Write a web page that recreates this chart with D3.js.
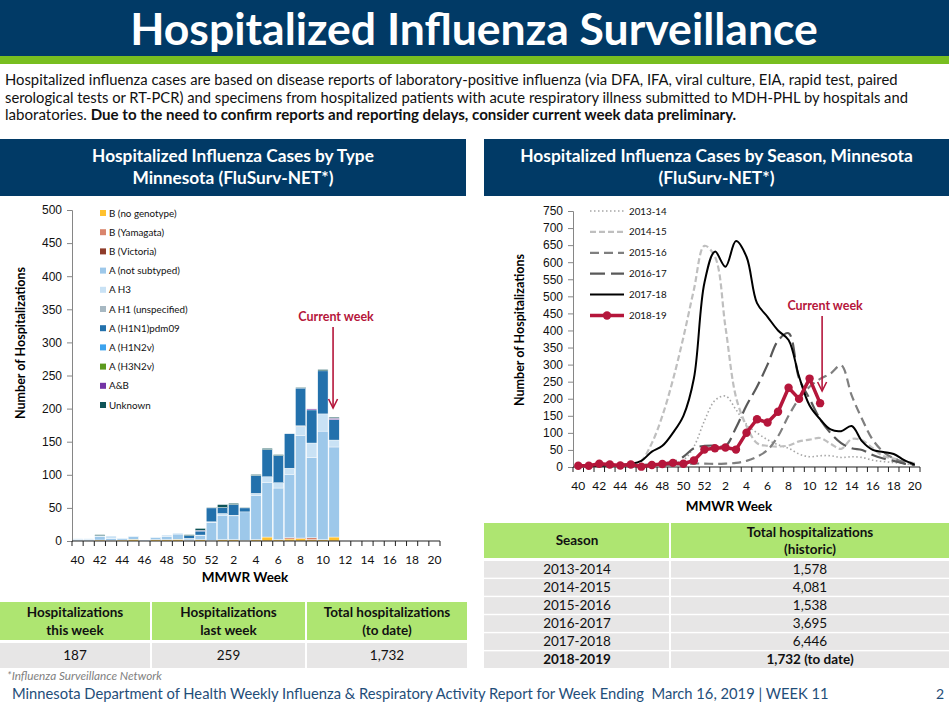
<!DOCTYPE html>
<html>
<head>
<meta charset="utf-8">
<script src="https://cdn.jsdelivr.net/npm/d3@7"></script>
<style>
  body { margin: 0; background: #fff; }
  svg { display: block; font-family: Lato, "Open Sans", sans-serif; }
</style>
</head>
<body>
<script>
// ---- data ----
const weeks = ["40","41","42","43","44","45","46","47","48","49","50","51","52",
  "1","2","3","4","5","6","7","8","9","10","11","12","13","14","15","16","17","18","19","20"];
const tickWeeks = ["40","42","44","46","48","50","52","2","4","6","8","10","12","14","16","18","20"];

// 2018-19 weekly counts by type (weeks 40 .. 11)
const bNoGenotype = [0.5,0.5,1.5,1,1.5,2.5,0,2,2,2.5,1,2,1,2,2,1,2,6,2,3,4,2,2,6];
const bYamagata   = [0,0,0,0,0,0,0,0,0,0,0,0,0,0,0,0,0,0,0,2,0,3,0,0];
const bVictoria   = [0,0,0,0,0,0,0,0,0,0,0,0,0,0,0,0,0,0,0,0,0.5,0,0,0];
const aNotSub     = [2,2,5,3,2,4,1,3,5,8,2,6,27,37,36,43,67,82,78,95,155,121,164,136];
const aH3         = [1,1,1.5,3.5,1,1,0,1,2,1.5,1,1,1,2.5,1,0,3,9,8,10,13.5,22,26,10.5];
const aH1         = [0,0,0,0,0,0,0,0,0,0,0,0,0,0,0,0,0,0,0,0,1,0,0,0];
const aPdm09      = [0,0,0,0,0,0,0,0,0,0,4,6,21,9,16,6,27,41,41,52,57,50,65,31];
const aH1N2v      = [0,0,0,0,0,0,0,0,0,0,0,0,0,0,0,0,0,0,0,0,0,0,0,0];
const aH3N2v      = [0,0,0,0,0,0,0,0,0,0,0,0,0,0,0,0,0,0,0,0,0,0,0,0];
const aAndB       = [0,0,0,0,0,0,0,0,0,0,0,1,0,0,0,0,0,0,0,0,0,1.5,0,2];
const unknown     = [0,0,1.5,0,0,0,0,0,0,0,1.5,3,1,4.5,2,1,1.5,2,1.5,0,1,0,2,1.5];

const typeNames = ["B (no genotype)","B (Yamagata)","B (Victoria)","A (not subtyped)","A H3",
  "A H1 (unspecified)","A (H1N1)pdm09","A (H1N2v)","A (H3N2v)","A&B","Unknown"];
const typeValues = [bNoGenotype,bYamagata,bVictoria,aNotSub,aH3,aH1,aPdm09,aH1N2v,aH3N2v,aAndB,unknown];
const typeColors = ["#FFC12E","#D9856D","#8E3B2A","#9DC8EA","#C9E2F5","#A7B8C2","#2371AC",
  "#3DA3EE","#5C9A1D","#7434A5","#0E5458"];

// hospitalizations by season (weeks 40 .. 20)
const s1314 = [1,1,2,2,2,3,3,4,5,10,20,60,135,195,208,168,125,100,80,65,55,38,30,33,33,28,30,28,20,16,13,10,6];
const s1415 = [2,3,3,4,4,5,18,70,150,255,380,520,648,616,410,205,120,70,62,60,63,75,80,85,68,53,82,78,55,32,25,18,11];
const s1516 = [2,2,3,3,3,4,4,5,5,6,8,10,10,9,10,12,18,30,50,90,150,200,235,258,274,298,210,140,80,45,25,14,6];
const s1617 = [2,3,3,4,5,5,6,8,10,15,30,55,62,63,62,115,180,235,300,370,392,260,200,140,99,70,55,50,35,25,18,10,5];
const s1718 = [2,3,4,5,6,9,18,45,62,100,150,260,540,631,587,662,616,480,440,400,372,265,180,140,110,105,120,75,50,44,38,20,7];
const s1819 = bNoGenotype.map((_, i) => d3.sum(typeValues, s => s[i]));

const seasonNames = ["2013-14","2014-15","2015-16","2016-17","2017-18","2018-19"];

const tableSeasons = ["2013-2014","2014-2015","2015-2016","2016-2017","2017-2018","2018-2019"];
const tableTotals  = ["1,578","4,081","1,538","3,695","6,446","1,732 (to date)"];
const weekHeaders  = [["Hospitalizations","this week"],["Hospitalizations","last week"],["Total hospitalizations","(to date)"]];
const weekValues   = ["187","259","1,732"];

// ---- page ----
const navy = "#013A66", lime = "#AEE571", grayRow = "#E7E6E6", red = "#B5163B";
const svg = d3.select("body").append("svg").attr("width", 949).attr("height", 708);

function fit(t, w) {
  const len = t.node().getComputedTextLength();
  t.attr("font-size", parseFloat(t.attr("font-size")) * w / len);
}

// header
svg.append("rect").attr("x", 0).attr("y", 0).attr("width", 949).attr("height", 56).attr("fill", navy);
svg.append("rect").attr("x", 0).attr("y", 56).attr("width", 949).attr("height", 8).attr("fill", "#78BE20");
const title = svg.append("text").attr("x", 474).attr("y", 45).attr("text-anchor", "middle")
  .attr("fill", "#fff").attr("font-weight", "bold").attr("font-size", 42)
  .text("Hospitalized Influenza Surveillance");
fit(title, 688);

const body1 = svg.append("text").attr("x", 5).attr("y", 85).attr("font-size", 13.5).attr("fill", "#111")
  .text("Hospitalized influenza cases are based on disease reports of laboratory-positive influenza (via DFA, IFA, viral culture, EIA, rapid test, paired");
fit(body1, 893);
const body2 = svg.append("text").attr("x", 5).attr("y", 103).attr("font-size", 13.5).attr("fill", "#111")
  .text("serological tests or RT-PCR) and specimens from hospitalized patients with acute respiratory illness submitted to MDH-PHL by hospitals and");
fit(body2, 904);
const body3 = svg.append("text").attr("x", 5).attr("y", 120).attr("font-size", 13.5).attr("fill", "#111");
body3.append("tspan").text("laboratories. ");
body3.append("tspan").attr("font-weight", "bold")
  .text("Due to the need to confirm reports and reporting delays, consider current week data preliminary.");
fit(body3, 732);

// panel headers
function panelHeader(x, w, lines, firstWidth) {
  svg.append("rect").attr("x", x).attr("y", 139).attr("width", w).attr("height", 57).attr("fill", navy);
  const ts = lines.map((l, i) => svg.append("text").attr("x", x + w / 2).attr("y", 162 + i * 22)
    .attr("text-anchor", "middle").attr("fill", "#fff").attr("font-weight", "bold")
    .attr("font-size", 15).text(l));
  fit(ts[0], firstWidth);
  ts[1].attr("font-size", ts[0].attr("font-size"));
}
panelHeader(0, 466, ["Hospitalized Influenza Cases by Type", "Minnesota (FluSurv-NET*)"], 282);
panelHeader(484, 465, ["Hospitalized Influenza Cases by Season, Minnesota", "(FluSurv-NET*)"], 393);

// ---- left chart: stacked bars ----
const axisColor = "#868686";
const xb = d3.scaleBand().domain(weeks).range([72, 440]).paddingInner(0.08).paddingOuter(0.04);
const yb = d3.scaleLinear().domain([0, 500]).range([541, 210]);

const rows = weeks.slice(0, bNoGenotype.length).map((w, i) => {
  const r = { week: w };
  typeNames.forEach((n, k) => r[n] = typeValues[k][i]);
  return r;
});
const stack = d3.stack().keys(typeNames)(rows);

const left = svg.append("g");
left.selectAll("g.layer").data(stack).join("g").attr("class", "layer")
  .attr("fill", (d, i) => typeColors[i])
  .selectAll("rect").data(d => d).join("rect")
  .attr("x", d => xb(d.data.week))
  .attr("width", xb.bandwidth())
  .attr("y", d => yb(d[1]))
  .attr("height", d => Math.max(0, yb(d[0]) - yb(d[1])))
  .attr("stroke", "#fff").attr("stroke-width", 0.4);

function yAxis(g, scale, x, step) {
  const ax = g.append("g").attr("transform", `translate(${x},0)`)
    .call(d3.axisLeft(scale).tickValues(d3.range(0, scale.domain()[1] + 1, step)).tickSize(5).tickPadding(5));
  ax.select(".domain").attr("stroke", axisColor);
  ax.selectAll(".tick line").attr("stroke", axisColor);
  ax.selectAll("text").attr("font-size", 12).attr("fill", "#111").attr("font-family", null);
}
function xAxis(g, scale, y, labelDy) {
  const step = scale.step();
  const r = scale.range();
  g.append("line").attr("x1", r[0]).attr("x2", r[1]).attr("y1", y).attr("y2", y).attr("stroke", "#222").attr("stroke-width", 1.2);
  g.selectAll(null).data(weeks.concat(["end"])).join("line")
    .attr("x1", (d, i) => r[0] + i * step).attr("x2", (d, i) => r[0] + i * step)
    .attr("y1", y).attr("y2", y + 5).attr("stroke", "#222");
  g.selectAll(null).data(tickWeeks).join("text")
    .attr("x", d => scale(d) + scale.bandwidth() / 2).attr("y", y + labelDy)
    .attr("text-anchor", "middle").attr("font-size", 12).attr("fill", "#111").text(d => d);
}
yAxis(left, yb, 72, 50);
xAxis(left, d3.scaleBand().domain(weeks).range([72, 440]), 541, 23);

left.append("text").attr("x", 245).attr("y", 582).attr("text-anchor", "middle")
  .attr("font-weight", "bold").attr("font-size", 13.5).text("MMWR Week");
left.append("text").attr("transform", "translate(25,343) rotate(-90)").attr("text-anchor", "middle")
  .attr("font-weight", "bold").attr("font-size", 12.5).text("Number of Hospitalizations");

// legend
const lg = left.selectAll("g.lg").data(typeNames).join("g").attr("class", "lg")
  .attr("transform", (d, i) => `translate(100,${213 + i * 19.2})`);
lg.append("rect").attr("x", 0).attr("y", -3).attr("width", 6).attr("height", 6).attr("fill", (d, i) => typeColors[i]);
lg.append("text").attr("x", 9).attr("y", 3.5).attr("font-size", 9.8).attr("fill", "#111").text(d => d);

// current week annotation
function currentWeek(g, x, yText, y1, y2) {
  g.append("text").attr("x", x + 3).attr("y", yText).attr("text-anchor", "middle")
    .attr("fill", red).attr("font-weight", "bold").attr("font-size", 12.5).text("Current week");
  g.append("line").attr("x1", x).attr("x2", x).attr("y1", y1).attr("y2", y2).attr("stroke", red).attr("stroke-width", 1.6);
  g.append("path").attr("d", `M${x - 4.5},${y2 - 9}L${x},${y2}L${x + 4.5},${y2 - 9}`)
    .attr("fill", "none").attr("stroke", red).attr("stroke-width", 1.6);
}
currentWeek(left, xb("11") + xb.bandwidth() / 2 - 1, 321, 327, 408);

// ---- right chart: lines by season ----
const xl = d3.scaleBand().domain(weeks).range([573, 920]);
const yl = d3.scaleLinear().domain([0, 750]).range([467, 211]);
const right = svg.append("g");
yAxis(right, yl, 573, 50);
xAxis(right, xl, 467, 23);
right.append("text").attr("x", 729).attr("y", 511).attr("text-anchor", "middle")
  .attr("font-weight", "bold").attr("font-size", 13.5).text("MMWR Week");
right.append("text").attr("transform", "translate(524,330) rotate(-90)").attr("text-anchor", "middle")
  .attr("font-weight", "bold").attr("font-size", 12.5).text("Number of Hospitalizations");

const seasonStyles = [
  { color: "#A6A6A6", width: 1.6, dash: "1.5,2.5" },
  { color: "#BFBFBF", width: 2.2, dash: "6,3" },
  { color: "#7F7F7F", width: 2.2, dash: "9,5" },
  { color: "#595959", width: 2.2, dash: "15,6" },
  { color: "#000000", width: 2, dash: null },
  { color: red, width: 3.5, dash: null }
];
const seasonValues = [s1314, s1415, s1516, s1617, s1718, s1819];
const px = i => xl(weeks[i]) + xl.bandwidth() / 2;
const smooth = d3.line().x((d, i) => px(i)).y(d => yl(d)).curve(d3.curveCatmullRom.alpha(0.5));
const straight = d3.line().x((d, i) => px(i)).y(d => yl(d));

seasonValues.forEach((vals, k) => {
  const st = seasonStyles[k];
  right.append("path").attr("d", k === 5 ? straight(vals) : smooth(vals))
    .attr("fill", "none").attr("stroke", st.color).attr("stroke-width", st.width)
    .attr("stroke-dasharray", st.dash).attr("stroke-linejoin", "round");
});
right.selectAll("circle.pt").data(s1819).join("circle").attr("class", "pt")
  .attr("cx", (d, i) => px(i)).attr("cy", d => yl(d)).attr("r", 4.2).attr("fill", red);

const rl = right.selectAll("g.rl").data(seasonNames).join("g").attr("class", "rl")
  .attr("transform", (d, i) => `translate(590,${211 + i * 20.9})`);
rl.append("line").attr("x1", 0).attr("x2", 34).attr("y1", 0).attr("y2", 0)
  .attr("stroke", (d, i) => seasonStyles[i].color).attr("stroke-width", (d, i) => seasonStyles[i].width)
  .attr("stroke-dasharray", (d, i) => seasonStyles[i].dash);
rl.filter((d, i) => i === 5).append("circle").attr("cx", 17).attr("cy", 0).attr("r", 4.2).attr("fill", red);
rl.append("text").attr("x", 39).attr("y", 3.5).attr("font-size", 9.8).attr("fill", "#111").text(d => d);

currentWeek(right, px(23) + 2, 310, 316, 391);

// ---- tables ----
const colsL = [[0, 150], [152, 305], [307, 467]];
colsL.forEach((c, i) => {
  svg.append("rect").attr("x", c[0]).attr("y", 602).attr("width", c[1] - c[0]).attr("height", 38).attr("fill", lime);
  svg.append("rect").attr("x", c[0]).attr("y", 643).attr("width", c[1] - c[0]).attr("height", 25).attr("fill", grayRow);
  weekHeaders[i].forEach((l, j) => {
    svg.append("text").attr("x", (c[0] + c[1]) / 2).attr("y", 617 + j * 18).attr("text-anchor", "middle")
      .attr("font-weight", "bold").attr("font-size", 13.5).attr("fill", "#111").text(l);
  });
  svg.append("text").attr("x", (c[0] + c[1]) / 2).attr("y", 660).attr("text-anchor", "middle")
    .attr("font-size", 13.5).attr("fill", "#111").text(weekValues[i]);
});

const colsR = [[484, 669], [671, 949]];
colsR.forEach(c => svg.append("rect").attr("x", c[0]).attr("y", 523).attr("width", c[1] - c[0]).attr("height", 35).attr("fill", lime));
svg.append("text").attr("x", 577).attr("y", 545).attr("text-anchor", "middle")
  .attr("font-weight", "bold").attr("font-size", 13.5).attr("fill", "#111").text("Season");
["Total hospitalizations", "(historic)"].forEach((l, j) => {
  svg.append("text").attr("x", 810).attr("y", 537 + j * 17).attr("text-anchor", "middle")
    .attr("font-weight", "bold").attr("font-size", 13.5).attr("fill", "#111").text(l);
});
const rowY = d3.scaleBand().domain(tableSeasons).range([561, 668]).paddingInner(0.08);
tableSeasons.forEach((s, i) => {
  const bold = i === tableSeasons.length - 1 ? "bold" : null;
  colsR.forEach(c => svg.append("rect").attr("x", c[0]).attr("y", rowY(s)).attr("width", c[1] - c[0])
    .attr("height", rowY.bandwidth()).attr("fill", grayRow));
  svg.append("text").attr("x", 577).attr("y", rowY(s) + rowY.bandwidth() / 2 + 4.8).attr("text-anchor", "middle")
    .attr("font-size", 13.5).attr("font-weight", bold).attr("fill", "#111").text(s);
  svg.append("text").attr("x", 810).attr("y", rowY(s) + rowY.bandwidth() / 2 + 4.8).attr("text-anchor", "middle")
    .attr("font-size", 13.5).attr("font-weight", bold).attr("fill", "#111").text(tableTotals[i]);
});

// ---- footer ----
const note = svg.append("text").attr("x", 7).attr("y", 680).attr("font-size", 10.5).attr("font-style", "italic")
  .attr("fill", "#7F7F7F").text("*Influenza Surveillance Network");
fit(note, 155);
const foot = svg.append("text").attr("x", 12).attr("y", 699).attr("font-size", 14).attr("fill", "#1F4E79")
  .text("Minnesota Department of Health Weekly Influenza & Respiratory Activity Report for Week Ending  March 16, 2019 | WEEK 11");
foot.attr("xml:space", "preserve").style("white-space", "pre");
fit(foot, 817);
svg.append("text").attr("x", 944).attr("y", 699).attr("text-anchor", "end").attr("font-size", 14)
  .attr("fill", "#1F4E79").text("2");
</script>
</body>
</html>
